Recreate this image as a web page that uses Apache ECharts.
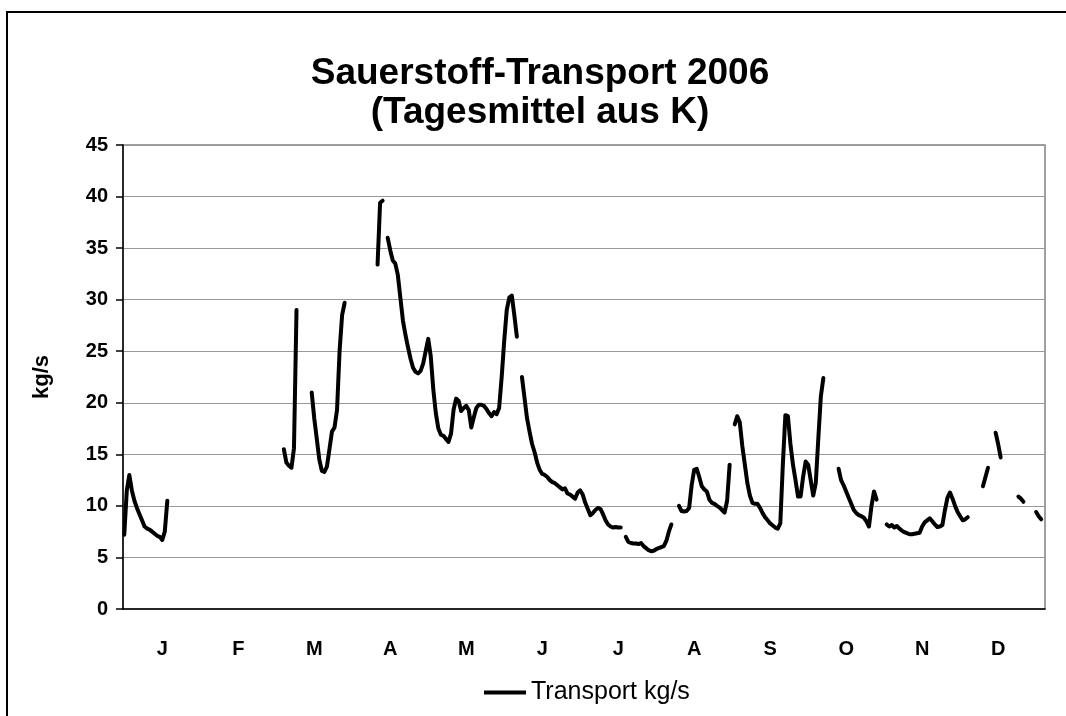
<!DOCTYPE html>
<html lang="de">
<head>
<meta charset="UTF-8">
<title>Sauerstoff-Transport 2006</title>
<script src="https://cdn.jsdelivr.net/npm/echarts@6/dist/echarts.min.js"></script>
<style>
  html, body { margin: 0; padding: 0; background: #fff; overflow: hidden; }
  #frame { position: absolute; left: 6px; top: 11px; width: 1200px; height: 800px;
           border-left: 2px solid #000; border-top: 2px solid #000; }
  #main { position: absolute; left: 0; top: 0; width: 1066px; height: 716px; }
</style>
</head>
<body>
<div id="frame"></div>
<div id="main"></div>
<script type="text/javascript">
    // month letters, one label per 30 days
    var months = ['J', 'F', 'M', 'A', 'M', 'J', 'J', 'A', 'S', 'O', 'N', 'D'];
    var dayCount = 364;

    // daily means (kg/s), pieces of the year that have values; the rest is empty
    var janStart = 0;
    var janValues = [7.2, 11.5, 13.0, 11.5, 10.5, 9.8, 9.2, 8.6, 8.0, 7.8, 7.7, 7.5, 7.3, 7.1, 7.0, 6.7, 7.5, 10.5];
    var marAStart = 63;
    var marAValues = [15.5, 14.2, 13.9, 13.7, 15.6, 29.0];
    var marBStart = 74;
    var marBValues = [21.0, 18.5, 16.5, 14.5, 13.4, 13.3, 13.8, 15.5, 17.2, 17.6, 19.3, 25.0, 28.5, 29.7];
    var aprAStart = 100;
    var aprAValues = [33.4, 39.4, 39.6];
    var aprBStart = 104;
    var aprBValues = [36.0, 34.8, 33.8, 33.5, 32.4, 30.2, 28.0, 26.6, 25.4, 24.3, 23.4, 23.0, 22.85, 23.1, 23.8, 25.0,
        26.2, 24.5, 21.3, 19.0, 17.5, 16.9, 16.8, 16.5, 16.2, 17.0, 19.3, 20.4, 20.2, 19.2, 19.5, 19.7, 19.3, 17.6,
        18.6, 19.5, 19.8, 19.8, 19.7, 19.4, 19.0, 18.7, 19.1, 18.9, 19.5, 22.5, 26.0, 29.0, 30.2, 30.4, 28.5, 26.4];
    var junStart = 157;
    var junValues = [22.5, 20.5, 18.5, 17.2, 16.0, 15.2, 14.2, 13.5, 13.1, 13.0, 12.8, 12.5, 12.3, 12.2, 12.0, 11.8,
        11.6, 11.7, 11.2, 11.1, 10.9, 10.7, 11.3, 11.5, 11.1, 10.3, 9.7, 9.1, 9.3, 9.6, 9.8, 9.7, 9.2, 8.6, 8.2, 8.0,
        7.9, 7.95, 7.9, 7.9];
    var julStart = 198;
    var julValues = [7.0, 6.5, 6.4, 6.35, 6.35, 6.3, 6.4, 6.1, 5.9, 5.7, 5.6, 5.65, 5.8, 5.9, 6.0, 6.1, 6.6, 7.5, 8.2];
    var augStart = 219;
    var augValues = [10.0, 9.5, 9.45, 9.5, 9.8, 12.0, 13.5, 13.6, 12.8, 11.9, 11.6, 11.4, 10.6, 10.3, 10.2, 10.0,
        9.85, 9.6, 9.35, 10.5, 14.0];
    var sepStart = 241;
    var sepValues = [17.9, 18.7, 18.1, 15.8, 14.0, 12.2, 11.0, 10.3, 10.2, 10.2, 9.8, 9.3, 8.9, 8.6, 8.3, 8.1, 7.9,
        7.8, 8.3, 14.0, 18.8, 18.7, 16.0, 14.0, 12.5, 10.9, 10.9, 12.8, 14.3, 14.0, 12.5, 11.0, 12.2, 16.5, 20.6, 22.4];
    var octStart = 282;
    var octValues = [13.6, 12.5, 12.0, 11.4, 10.8, 10.2, 9.6, 9.3, 9.1, 9.0, 8.85, 8.5, 8.0, 10.0, 11.4, 10.6];
    var novStart = 301;
    var novValues = [8.2, 8.0, 8.15, 7.9, 8.05, 7.8, 7.6, 7.45, 7.35, 7.25, 7.25, 7.3, 7.35, 7.4, 8.0, 8.4, 8.6, 8.8,
        8.5, 8.2, 7.95, 8.0, 8.15, 9.6, 10.8, 11.3, 10.7, 10.0, 9.4, 9.0, 8.6, 8.7, 8.9];
    var decAStart = 339;
    var decAValues = [11.9, 12.8, 13.7];
    var decBStart = 344;
    var decBValues = [17.1, 16.0, 14.7];
    var decCStart = 353;
    var decCValues = [10.9, 10.7, 10.4];
    var decDStart = 360;
    var decDValues = [9.4, 9.0, 8.7];

    var pieces = [
        [janStart, janValues], [marAStart, marAValues], [marBStart, marBValues],
        [aprAStart, aprAValues], [aprBStart, aprBValues], [junStart, junValues],
        [julStart, julValues], [augStart, augValues], [sepStart, sepValues],
        [octStart, octValues], [novStart, novValues], [decAStart, decAValues],
        [decBStart, decBValues], [decCStart, decCValues], [decDStart, decDValues]
    ];

    var days = [];
    var transport = [];
    for (var i = 0; i < dayCount; i++) {
        days.push(String(i + 1));
        transport.push(null);
    }
    pieces.forEach(function (p) {
        for (var k = 0; k < p[1].length; k++) {
            transport[p[0] + k] = p[1][k];
        }
    });

    var font = '"Liberation Sans", Arial, sans-serif';
    var myChart = echarts.init(document.getElementById('main'));
    var option = {
        animation: false,
        title: {
            text: 'Sauerstoff-Transport 2006\n(Tagesmittel aus K)',
            left: 540,
            top: 54,
            padding: 0,
            textAlign: 'center',
            textStyle: {
                fontFamily: font,
                fontWeight: 'bold',
                fontSize: 37,
                lineHeight: 39,
                color: '#000'
            }
        },
        legend: {
            data: ['Transport kg/s'],
            left: 484,
            top: 680,
            padding: 0,
            itemWidth: 42,
            itemHeight: 20,
            itemGap: 5,
            icon: 'path://M0,0 L42,0 L42,4 L0,4 Z',
            itemStyle: { color: '#000' },
            textStyle: { fontFamily: font, fontSize: 25, color: '#000' }
        },
        grid: {
            left: 123,
            right: 21,
            top: 145,
            bottom: 107,
            show: true,
            borderColor: '#808080',
            borderWidth: 1.5
        },
        xAxis: {
            type: 'category',
            data: days,
            boundaryGap: true,
            axisLine: { lineStyle: { color: '#000', width: 1.5 } },
            axisTick: {
                interval: function (idx) { return idx % 30 === 0; },
                length: 8,
                lineStyle: { color: '#000', width: 1.5 }
            },
            axisLabel: {
                interval: function (idx) { return idx % 30 === 15; },
                formatter: function (v, idx) { return months[Math.floor(idx / 30)]; },
                margin: 30,
                fontFamily: font,
                fontWeight: 'bold',
                fontSize: 20,
                color: '#000'
            },
            splitLine: { show: false }
        },
        yAxis: {
            type: 'value',
            min: 0,
            max: 45,
            interval: 5,
            name: 'kg/s',
            nameLocation: 'middle',
            nameRotate: 90,
            nameGap: 70,
            nameTextStyle: { fontFamily: font, fontWeight: 'bold', fontSize: 22, color: '#000' },
            axisLine: { show: true, lineStyle: { color: '#000', width: 1.5 } },
            axisTick: { show: true, length: 7, lineStyle: { color: '#000', width: 1.5 } },
            axisLabel: {
                margin: 15,
                fontFamily: font,
                fontWeight: 'bold',
                fontSize: 20,
                color: '#000'
            },
            splitLine: { lineStyle: { color: '#999', width: 1 } }
        },
        series: [
            {
                name: 'Transport kg/s',
                type: 'line',
                data: transport,
                connectNulls: false,
                showSymbol: false,
                symbol: 'none',
                smooth: false,
                lineStyle: { color: '#000', width: 4, cap: 'round', join: 'round' },
                itemStyle: { color: '#000' }
            }
        ]
    };
    myChart.setOption(option);
</script>
</body>
</html>
